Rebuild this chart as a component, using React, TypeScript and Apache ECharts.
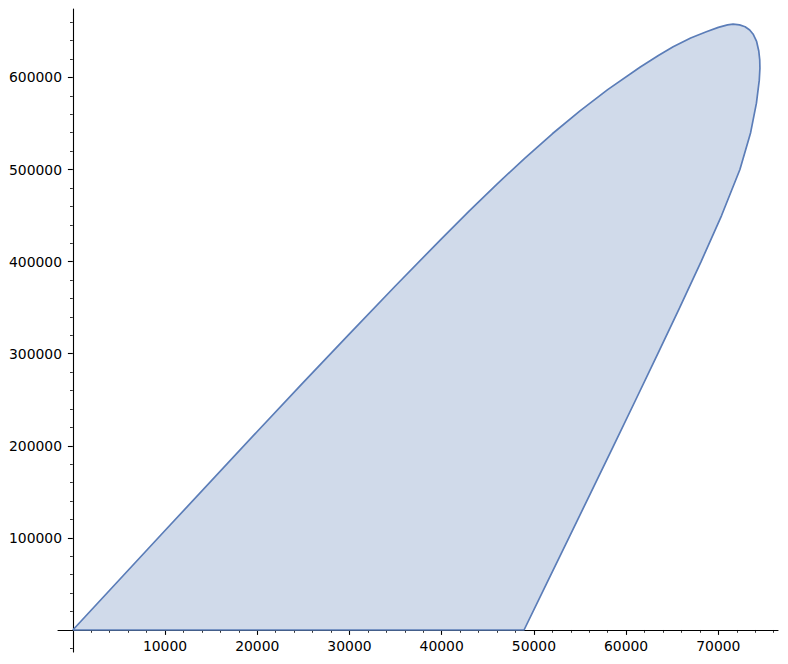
import React, { useEffect, useRef } from "react";
import * as echarts from "echarts";

// Outline of the filled region, in drawing order (closed back to the origin)
const boundaryX = [
  0, 10000, 20000, 25000, 30000, 35000, 40000, 43000, 46000, 49000, 52000, 55000,
  58000, 61500, 63500, 65100, 67000, 68700, 70000, 71000, 71600, 72300, 72900,
  73400, 73800, 74150, 74380, 74490, 74510, 74440, 74130, 73500, 72340, 70350,
  68130, 65810, 63440, 61045, 58635, 56215, 53790, 51360, 48930, 0,
];
const boundaryY = [
  0, 108000, 215500, 268800, 321500, 373800, 425000, 455000, 484200, 512200, 538800, 563700,
  586700, 611000, 623700, 633200, 642800, 649500, 654300, 657000, 657800, 657000, 655000,
  651500, 646500, 639000, 629000, 619000, 610000, 597000, 572000, 540000, 500000, 450000,
  400000, 350000, 300000, 250000, 200000, 150000, 100000, 50000, 0, 0,
];

const xTickValues = [10000, 20000, 30000, 40000, 50000, 60000, 70000];
const yTickValues = [100000, 200000, 300000, 400000, 500000, 600000];

const points: number[][] = boundaryX.map((x, i) => [x, boundaryY[i]]);

export default function App() {
  const ref = useRef<HTMLDivElement>(null);
  useEffect(() => {
    if (!ref.current) return;
    const chart = echarts.init(ref.current, null, { renderer: "svg" });
    const font = "DejaVu Sans";
    const black = "#000000";
    chart.setOption({
      animation: false,
      backgroundColor: "#ffffff",
      grid: { left: 58, right: 10, top: 9, bottom: 12, containLabel: false, outerBoundsMode: "none" },
      xAxis: {
        type: "value",
        min: -1605,
        max: 76470,
        splitNumber: 8,
        axisLine: { show: true, onZero: true, lineStyle: { color: black, width: 1.1 } },
        axisTick: { show: true, customValues: xTickValues, length: 4.9, lineStyle: { color: black, width: 1.1 } },
        minorTick: { show: true, splitNumber: 5, length: 2.8, lineStyle: { color: black, width: 0.8 } },
        axisLabel: {
          customValues: xTickValues,
          formatter: (v: number) => String(v),
          fontFamily: font,
          fontSize: 13.9,
          color: black,
          margin: -13,
        },
        splitLine: { show: false },
        minorSplitLine: { show: false },
      },
      yAxis: {
        type: "value",
        min: -23890,
        max: 674270,
        splitNumber: 7,
        axisLine: { show: true, onZero: true, lineStyle: { color: black, width: 1.1 } },
        axisTick: { show: true, customValues: yTickValues, length: 4.9, lineStyle: { color: black, width: 1.1 } },
        minorTick: { show: true, splitNumber: 5, length: 2.8, lineStyle: { color: black, width: 0.8 } },
        axisLabel: {
          customValues: yTickValues,
          formatter: (v: number) => String(v),
          fontFamily: font,
          fontSize: 13.9,
          color: black,
          margin: -4,
        },
        splitLine: { show: false },
        minorSplitLine: { show: false },
      },
      series: [
        {
          type: "custom",
          coordinateSystem: "cartesian2d",
          data: [[0, 0]],
          silent: true,
          z: 1,
          renderItem: (_params: any, api: any) => ({
            type: "polygon",
            shape: { points: points.map((p) => api.coord(p)) },
            style: { fill: "#d0daea", stroke: "none" },
          }),
        },
        {
          type: "line",
          data: points,
          showSymbol: false,
          symbol: "none",
          silent: true,
          z: 3,
          lineStyle: { color: "#5b7db8", width: 1.7 },
        },
      ],
    });
    return () => chart.dispose();
  }, []);
  return (
    <div
      ref={ref}
      style={{ position: "absolute", left: 0, top: 0, width: 788, height: 664 }}
    />
  );
}
